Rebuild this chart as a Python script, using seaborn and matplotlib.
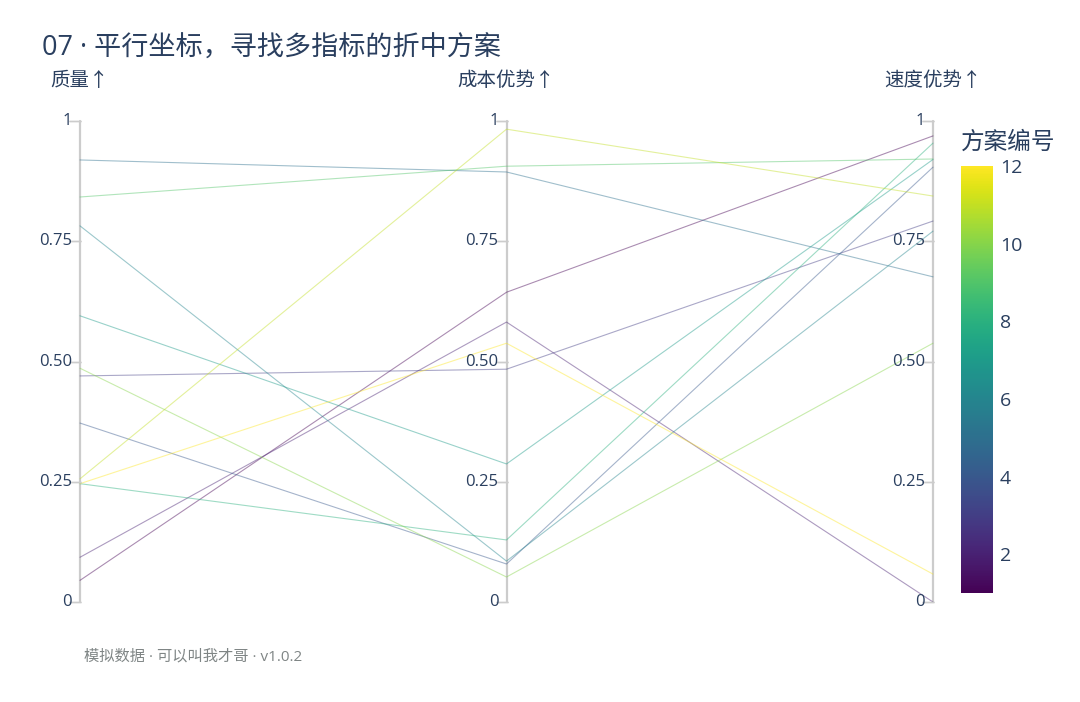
import numpy as np
import pandas as pd
import matplotlib
matplotlib.use("Agg")
import matplotlib.pyplot as plt
import matplotlib.transforms as mtransforms
import seaborn as sns

# --- datos ---
scheme_ids = [1, 2, 3, 4, 5, 6, 7, 8, 9, 10, 11, 12]
quality = [0.045, 0.093, 0.470, 0.372, 0.919, 0.782, 0.595, 0.246, 0.842, 0.486, 0.256, 0.246]
cost_adv = [0.644, 0.582, 0.484, 0.079, 0.894, 0.085, 0.287, 0.129, 0.906, 0.052, 0.983, 0.538]
speed_adv = [0.969, 0.0, 0.792, 0.904, 0.676, 0.771, 0.920, 0.954, 0.921, 0.538, 0.844, 0.058]
dim_labels = ["质量↑", "成本优势↑", "速度优势↑"]
tick_vals = [0, 0.25, 0.5, 0.75, 1]
tick_text = ["0", "0.25", "0.50", "0.75", "1"]
cbar_ticks = [2, 4, 6, 8, 10, 12]

TXT = "#2a3f5f"
FONTS = ["Open Sans", "Noto Sans CJK SC", "DejaVu Sans"]

sns.set_theme(style="white")
plt.rcParams["font.family"] = FONTS

# formato largo para seaborn
rows = []
for i, sid in enumerate(scheme_ids):
    for pos, vals in enumerate([quality, cost_adv, speed_adv]):
        rows.append({"scheme": sid, "pos": pos, "value": vals[i]})
df = pd.DataFrame(rows)

fig = plt.figure(figsize=(10.8, 7.02), dpi=100)
W, H = 1080, 702
x0, x1 = 80, 933
y_top, y_bot = 121, 602
ax = fig.add_axes([x0 / W, (H - y_bot) / H, (x1 - x0) / W, (y_bot - y_top) / H])

sns.lineplot(data=df, x="pos", y="value", hue="scheme", units="scheme",
             estimator=None, sort=False, palette="viridis", hue_norm=(1, 12),
             legend=False, linewidth=0.8, alpha=0.45, ax=ax)
for ln in ax.lines:
    ln.set_clip_on(False)

ax.set_xlim(0, 2)
ax.set_ylim(0, 1)
ax.set_axis_off()

# ejes verticales con sus marcas
for pos, lab in enumerate(dim_labels):
    ax.plot([pos, pos], [0, 1], color="#cccccc", lw=1.6, clip_on=False, zorder=0)
    for tv, tt in zip(tick_vals, tick_text):
        tr = mtransforms.offset_copy(ax.transData, fig=fig, x=-5, y=0, units="dots")
        ax.plot([pos, pos], [tv, tv], color="#cccccc", lw=1, clip_on=False,
                transform=tr, marker="_", markersize=8)
        ax.text(pos, tv, tt, transform=mtransforms.offset_copy(ax.transData, fig=fig, x=-8, y=0, units="dots"),
                ha="right", va="center", fontsize=12, color=TXT)
    fig.text((x0 + pos * (x1 - x0) / 2) / W, (H - 81) / H, lab, ha="center", va="center",
             fontsize=14, color=TXT)

# barra de color
cax = fig.add_axes([961 / W, (H - 593) / H, 32 / W, 427 / H])
sm = plt.cm.ScalarMappable(cmap="viridis", norm=plt.Normalize(1, 12))
cb = fig.colorbar(sm, cax=cax, ticks=cbar_ticks)
cb.outline.set_visible(False)
cax.tick_params(length=0, labelsize=14, labelcolor=TXT, pad=5)
fig.text(1008 / W, (H - 143) / H, "方案编号", ha="center", va="center", fontsize=17, color=TXT)

fig.text(42 / W, (H - 48) / H, "07 · 平行坐标，寻找多指标的折中方案", ha="left", va="center",
         fontsize=19.5, color=TXT)
fig.text(84 / W, (H - 657) / H, "模拟数据 · 可以叫我才哥 · v1.0.2", ha="left", va="center",
         fontsize=11, color="#7f8585")

fig.savefig("out.png", dpi=100)
